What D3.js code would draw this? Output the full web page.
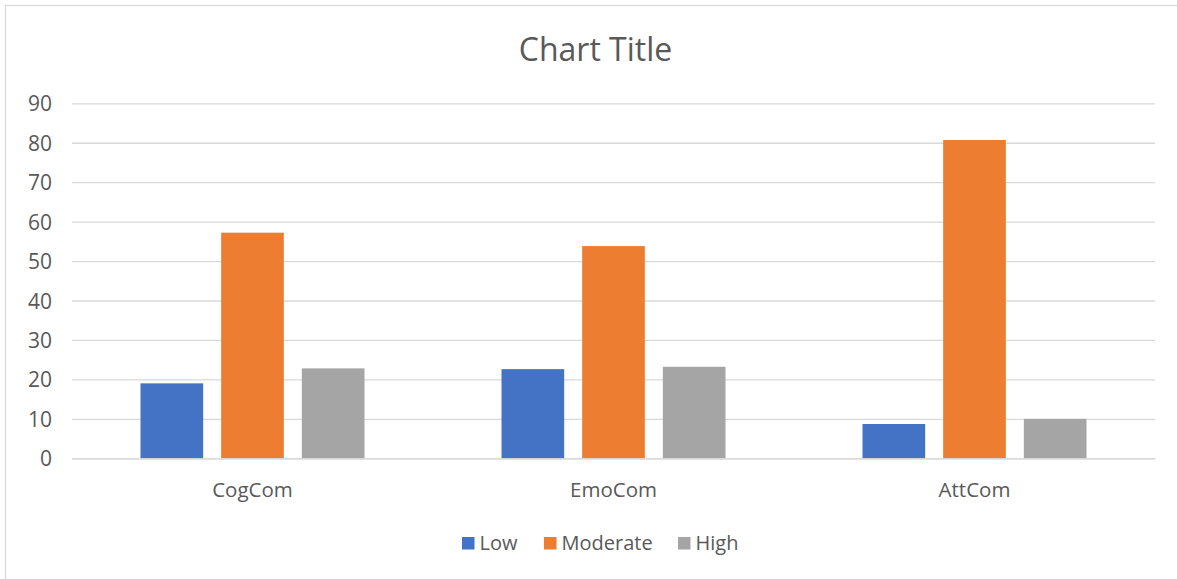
<!DOCTYPE html>
<html><head><meta charset="utf-8">
<script src="https://cdn.jsdelivr.net/npm/d3@7"></script>
<style>
html,body{margin:0;padding:0;background:#fff;}
text{font-family:"Open Sans","Liberation Sans",sans-serif;}
</style></head>
<body>
<svg id="chart" width="1177" height="579"></svg>
<script>
const categories = ["CogCom", "EmoCom", "AttCom"];
const seriesNames = ["Low", "Moderate", "High"];
const lowValues = [19.0, 22.6, 8.7];
const moderateValues = [57.2, 53.8, 80.7];
const highValues = [22.8, 23.2, 10.0];
const tickValues = [0, 10, 20, 30, 40, 50, 60, 70, 80, 90];
const colors = ["#4472C4", "#ED7D31", "#A5A5A5"];
const chartTitle = "Chart Title";

const seriesValues = [lowValues, moderateValues, highValues];
const svg = d3.select("#chart");

// outer border (right and bottom edges fall outside the picture)
svg.append("rect").attr("x", 5.5).attr("y", 5.5).attr("width", 1200).attr("height", 600)
  .attr("fill", "#fff").attr("stroke", "#d9d9d9").attr("stroke-width", 1.2);

const plot = {left: 72, right: 1155, top: 103.3, bottom: 458.3};

const y = d3.scaleLinear().domain([0, 90]).range([plot.bottom, plot.top]);
const x0 = d3.scaleBand().domain(categories).range([plot.left, plot.right]).padding(0);
const gw = x0.bandwidth();
const x1 = d3.scaleBand().domain(seriesNames)
  .range([gw / 2 - 112, gw / 2 + 112]).paddingInner(0.223).paddingOuter(0);

// gridlines + y labels
const yAxis = d3.axisLeft(y).tickValues(tickValues).tickSize(-(plot.right - plot.left)).tickPadding(20);
const gy = svg.append("g").attr("transform", `translate(${plot.left},0)`).call(yAxis);
gy.select(".domain").remove();
gy.selectAll(".tick line").attr("stroke", "#d9d9d9").attr("stroke-width", 1.3);
gy.selectAll(".tick text").attr("fill", "#595959").attr("font-size", 21).attr("dy", "0.36em");

// bars
const groups = svg.append("g").selectAll("g").data(categories).join("g")
  .attr("transform", d => `translate(${x0(d)},0)`);
groups.selectAll("rect").data((c, i) => seriesNames.map((s, j) => ({s, j, v: seriesValues[j][i]})))
  .join("rect")
  .attr("x", d => x1(d.s))
  .attr("width", x1.bandwidth())
  .attr("y", d => y(d.v))
  .attr("height", d => y(0) - y(d.v))
  .attr("fill", d => colors[d.j]);

// x axis
const xAxis = d3.axisBottom(x0).tickSize(0);
const gx = svg.append("g").attr("transform", `translate(0,${plot.bottom})`).call(xAxis);
gx.select(".domain").attr("stroke", "#d9d9d9").attr("stroke-width", 1.3);
gx.selectAll(".tick text").attr("fill", "#595959").attr("font-size", 20.5)
  .attr("dy", null).attr("y", 38.5);

// title
svg.append("text").attr("x", 595.5).attr("y", 61).attr("text-anchor", "middle")
  .attr("font-size", 32).attr("fill", "#595959").text(chartTitle);

// legend
const legendX = [462, 544, 678];
const lg = svg.append("g").selectAll("g").data(seriesNames).join("g")
  .attr("transform", (d, i) => `translate(${legendX[i]},537)`);
lg.append("rect").attr("width", 12.5).attr("height", 12.5).attr("fill", (d, i) => colors[i]);
lg.append("text").attr("x", 17.5).attr("y", 13).attr("font-size", 20).attr("fill", "#595959").text(d => d);
</script>
</body></html>
